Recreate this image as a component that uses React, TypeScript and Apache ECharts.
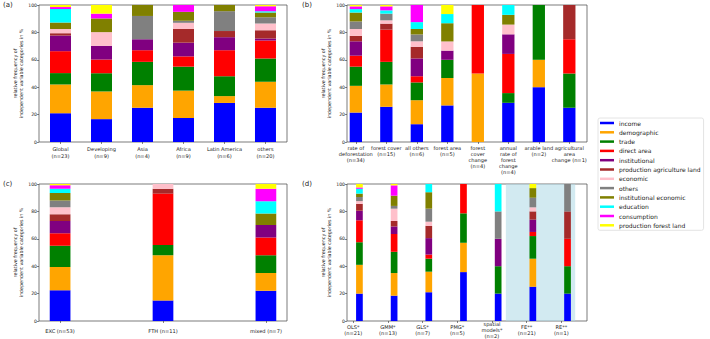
import React, { useEffect, useRef } from "react";
import * as echarts from "echarts";

const seriesNames = [
  "income",
  "demographic",
  "trade",
  "direct area",
  "institutional",
  "production agriculture land",
  "economic",
  "others",
  "institutional economic",
  "education",
  "consumption",
  "production forest land",
];
const seriesColors = [
  "#0000ff", "#ffa500", "#008000", "#ff0000", "#800080", "#a52a2a",
  "#ffc0cb", "#808080", "#808000", "#00ffff", "#ff00ff", "#ffff00",
];

// Panel (a): regions
const labelsA = ["Global\n(n=23)", "Developing\n(n=9)", "Asia\n(n=4)", "Africa\n(n=9)", "Latin America\n(n=6)", "others\n(n=20)"];
const valuesA = [
  [21, 21, 8.3, 16, 11.4, 1.7, 3.1, 0, 4.7, 9.9, 1.4, 1.5],
  [16.7, 20.2, 13.3, 10, 10, 0, 10, 0, 10, 0, 3.5, 6.3],
  [25, 16.5, 17, 8.5, 8, 0, 0, 17, 8, 0, 0, 0],
  [17.5, 20, 17.5, 7.5, 10, 10, 4.5, 1.5, 6.5, 0, 5, 0],
  [28.5, 5, 14.5, 19, 9.5, 4.5, 0, 14.5, 4.5, 0, 0, 0],
  [25, 19, 17, 13, 1.5, 6, 5, 4.5, 3.5, 1, 3.5, 1],
];

// Panel (b): dependent variables
const labelsB = [
  "rate of\ndeforestation\n(n=34)",
  "forest cover\n(n=15)",
  "all others\n(n=6)",
  "forest area\n(n=5)",
  "forest\ncover\nchange\n(n=4)",
  "annual\nrate of\nforest\nchange\n(n=4)",
  "arable land\n(n=2)",
  "agricultural\narea\nchange (n=1)",
];
const valuesB = [
  [21.5, 19.5, 14, 8, 10.5, 4, 5, 5.5, 6.5, 2.5, 2, 1],
  [25.7, 16.3, 16.5, 23.5, 0, 4.4, 2.4, 4.9, 0, 2.4, 2.9, 1],
  [13, 17.5, 13, 4.5, 13, 8.5, 4, 5, 4, 5, 12.5, 0],
  [26.7, 20, 13.3, 0, 6.7, 0, 6.7, 0, 13.3, 6.7, 0, 6.6],
  [0, 50, 0, 50, 0, 0, 0, 0, 0, 0, 0, 0],
  [28.6, 0, 7.1, 28.6, 14.3, 0, 7.1, 0, 7.1, 7.2, 0, 0],
  [40, 20, 40, 0, 0, 0, 0, 0, 0, 0, 0, 0],
  [25, 0, 25, 25, 0, 25, 0, 0, 0, 0, 0, 0],
];

// Panel (c): approach
const labelsC = ["EXC (n=53)", "FTH (n=11)", "mixed (n=7)"];
const valuesC = [
  [22.5, 17, 15.5, 9, 9, 5, 5, 5, 5.5, 3, 2.5, 1],
  [15, 33, 7.5, 37.5, 0, 3.5, 3.5, 0, 0, 0, 0, 0],
  [22, 13, 13, 13, 9, 0, 0, 0, 8.5, 9, 9, 3.5],
];

// Panel (d): estimation methods
const labelsD = ["OLS*\n(n=21)", "GMM*\n(n=13)", "GLS*\n(n=7)", "PMG*\n(n=5)", "spatial\nmodels*\n(n=2)", "FE**\n(n=21)", "RE**\n(n=1)"];
const valuesD = [
  [20, 21, 16.5, 16, 7, 5, 2, 3, 2.5, 3.5, 1, 2.5],
  [18.5, 16.5, 15.5, 13, 5.5, 4, 9, 2, 7.5, 0, 7.5, 1],
  [21, 15, 9.5, 3, 12, 9, 3, 9.5, 12, 6, 0, 0],
  [35.7, 21.4, 21.5, 21.4, 0, 0, 0, 0, 0, 0, 0, 0],
  [20, 0, 20, 0, 20, 0, 0, 20, 0, 20, 0, 0],
  [25, 20.5, 16.5, 3, 9, 6, 3, 7, 7, 0, 0, 3],
  [20, 0, 20, 20, 0, 20, 0, 20, 0, 0, 0, 0],
];

const yName = "relative frequency of\nindependent variable categories in %";
const FONT = "DejaVu Sans";

export default function App() {
  const ref = useRef<HTMLDivElement>(null);

  useEffect(() => {
    if (!ref.current) return;
    const chart = echarts.init(ref.current, undefined, { renderer: "svg" });

    const panels = [
      { labels: labelsA, values: valuesA, grid: { left: 39, top: 5, width: 248, height: 137 }, min: -0.525, max: 5.525, barWidth: 21, lh: 7, margin: 3, va: "top" },
      { labels: labelsB, values: valuesB, grid: { left: 347, top: 5, width: 240, height: 137 }, min: -0.29, max: 7.58, barWidth: 12.3, lh: 6.2, margin: 2.5, va: "top" },
      { labels: labelsC, values: valuesC, grid: { left: 39, top: 184, width: 248, height: 137 }, min: -0.205, max: 2.205, barWidth: 20.7, lh: 6.5, margin: 7, va: "top" },
      { labels: labelsD, values: valuesD, grid: { left: 347, top: 184, width: 240, height: 137 }, min: -0.18, max: 6.74, barWidth: 6.7, lh: 6, margin: 8.5, va: "middle" },
    ];

    const grids: any[] = [];
    const xAxes: any[] = [];
    const yAxes: any[] = [];
    const series: any[] = [];

    panels.forEach((p, gi) => {
      grids.push({ ...p.grid, show: true, borderColor: "#444", borderWidth: 0.7, backgroundColor: "transparent" });
      const idxs = p.labels.map((_, i) => i);
      // two label axes (even / odd positions) so that wide neighbouring labels are never dropped
      [0, 1].forEach((parity) => {
        const vals = idxs.filter((i) => i % 2 === parity);
        xAxes.push({
          type: "value",
          gridIndex: gi,
          position: "bottom",
          offset: 0,
          min: p.min,
          max: p.max,
          axisLine: { show: false, onZero: false },
          splitLine: { show: false },
          axisTick: { show: true, customValues: vals, length: 2, lineStyle: { color: "#333", width: 0.6 } },
          axisLabel: {
            customValues: vals,
            showMinLabel: true,
            showMaxLabel: true,
            hideOverlap: false,
            formatter: (v: number) => p.labels[Math.round(v)] ?? "",
            fontSize: 5.1,
            lineHeight: p.lh,
            color: "#222",
            fontFamily: FONT,
            margin: p.margin,
            verticalAlign: p.va,
            align: "center",
          },
        });
      });
      yAxes.push({
        type: "value",
        gridIndex: gi,
        min: 0,
        max: 100,
        interval: 20,
        axisLine: { show: false, onZero: false },
        splitLine: { show: false },
        axisTick: { show: true, length: 2, lineStyle: { color: "#333", width: 0.6 } },
        axisLabel: { fontSize: 4.6, color: "#222", fontFamily: FONT, margin: 2 },
        name: yName,
        nameLocation: "middle",
        nameGap: 12,
        nameRotate: 90,
        nameTextStyle: { fontSize: 4.8, lineHeight: 5.7, color: "#222", fontFamily: FONT },
      });
      const xi = gi * 2;
      if (gi === 3) {
        series.push({
          type: "bar",
          name: "__span",
          xAxisIndex: xi,
          yAxisIndex: gi,
          data: [],
          z: 0,
          markArea: {
            silent: true,
            z: 0,
            itemStyle: { color: "rgba(173,216,230,0.55)" },
            data: [[{ xAxis: 4.4 }, { xAxis: 6.4 }]],
          },
        });
      }
      seriesNames.forEach((name, k) => {
        series.push({
          type: "bar",
          name,
          xAxisIndex: xi,
          yAxisIndex: gi,
          stack: "p" + gi,
          barWidth: p.barWidth,
          itemStyle: { color: seriesColors[k] },
          // value first so the stacked dimension is the y value
          encode: { x: 1, y: 0 },
          data: p.values.map((row, i) => [row[k], i]),
          z: 2,
        });
      });
    });

    chart.setOption({
      animation: false,
      textStyle: { fontFamily: FONT },
      grid: grids,
      xAxis: xAxes,
      yAxis: yAxes,
      series,
      legend: {
        orient: "vertical",
        left: 598,
        top: 118,
        data: seriesNames,
        icon: "rect",
        itemWidth: 14,
        itemHeight: 2.5,
        itemGap: 2.3,
        padding: [1.5, 3, 1.5, 2],
        backgroundColor: "#fff",
        borderColor: "#ddd",
        borderWidth: 0.8,
        borderRadius: 2,
        selectedMode: false,
        textStyle: { fontSize: 6, lineHeight: 7, color: "#222", fontFamily: FONT },
      },
      graphic: [
        { type: "text", left: 3, top: 1, style: { text: "(a)", fontSize: 7, fill: "#222", fontFamily: FONT } },
        { type: "text", left: 302, top: 1, style: { text: "(b)", fontSize: 7, fill: "#222", fontFamily: FONT } },
        { type: "text", left: 3, top: 180, style: { text: "(c)", fontSize: 7, fill: "#222", fontFamily: FONT } },
        { type: "text", left: 302, top: 180, style: { text: "(d)", fontSize: 7, fill: "#222", fontFamily: FONT } },
      ],
    });

    return () => chart.dispose();
  }, []);

  return (
    <div
      ref={ref}
      style={{ position: "fixed", left: 0, top: 0, width: 710, height: 339, background: "#fff" }}
    />
  );
}
